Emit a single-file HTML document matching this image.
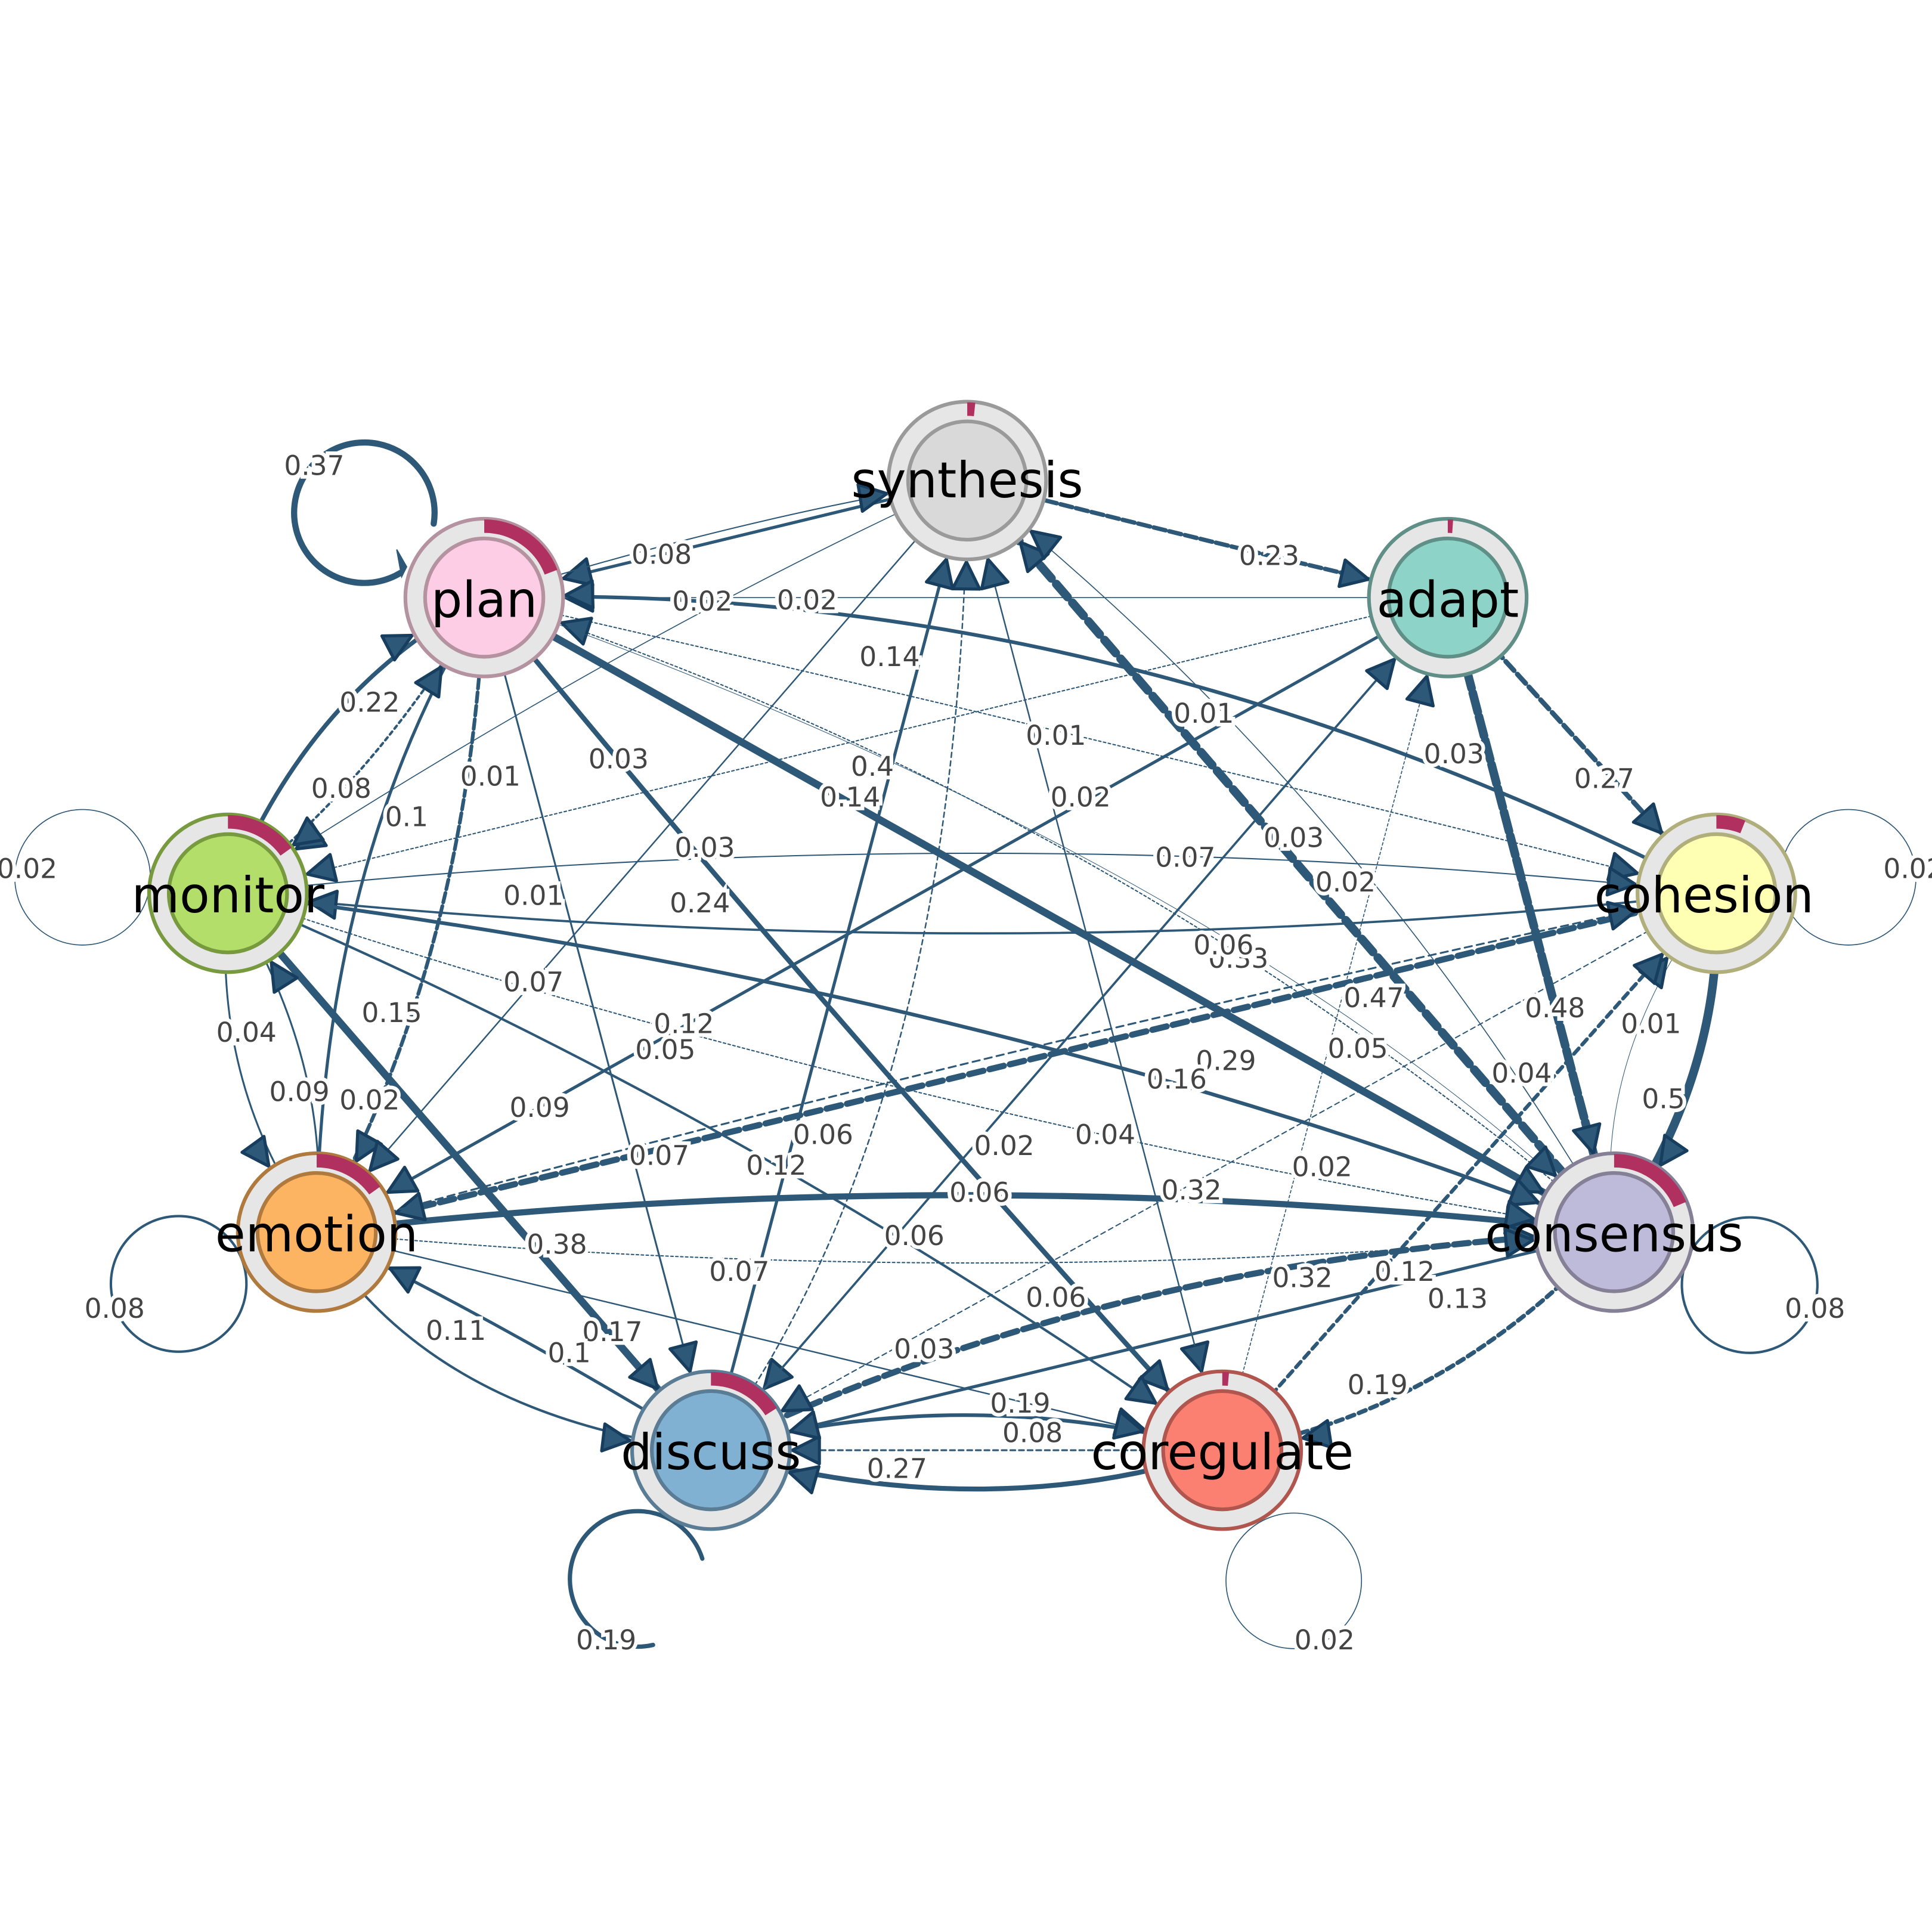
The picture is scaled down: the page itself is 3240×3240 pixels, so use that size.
<!DOCTYPE html>
<html><head><meta charset="utf-8"><style>html,body{margin:0;padding:0;background:#fff}svg{display:block}</style></head>
<body>
<svg width="3240" height="3240" viewBox="0 0 1568 1568" xmlns="http://www.w3.org/2000/svg" font-family="DejaVu Sans, Liberation Sans, sans-serif">
<defs>
<marker id="a" markerUnits="userSpaceOnUse" markerWidth="20" markerHeight="20" refX="0" refY="0" orient="auto" overflow="visible">
<path d="M-88,-11 L-66,0 L-88,11 Z" fill="#2e5877" stroke="#173e5e" stroke-width="2.5" stroke-linejoin="round"/>
</marker>
</defs>
<g fill="none" stroke="#2e5877" stroke-linecap="round">
<!-- loops -->
<path d="M325,465 A57,57 0 1 1 352,425" stroke-width="5"/>
<circle cx="67" cy="712" r="55" stroke-width="0.8"/>
<circle cx="1500" cy="712" r="55" stroke-width="0.8"/>
<circle cx="145" cy="1042" r="55" stroke-width="2"/>
<circle cx="1420" cy="1043" r="55" stroke-width="2"/>
<path d="M530,1335 A55,55 0 1 1 570,1265" stroke-width="3.5"/>
<circle cx="1050" cy="1283" r="55" stroke-width="0.8"/>
<path d="M330,460 l-8,-14 l4,22 z" fill="#2e5877"/>
<!-- edges -->
<g marker-end="url(#a)">
<path d="M785,390 L393,485" stroke-width="2.5"/>
<path d="M393,485 Q600,420 785,390" stroke-width="1"/>
<path d="M785,390 Q980,440 1175,485" stroke-width="3.5" stroke-dasharray="10 3"/>
<path d="M1175,485 L393,485" stroke-width="0.8"/>
<path d="M785,390 Q500,520 185,725" stroke-width="0.8"/>
<path d="M1393,725 Q900,470 393,485" stroke-width="3"/>
<path d="M393,485 L1310,1000" stroke-width="6"/>
<path d="M1310,1000 L785,390" stroke-width="7" stroke-dasharray="14 6"/>
<path d="M1175,485 L1310,1000" stroke-width="7" stroke-dasharray="16 4"/>
<path d="M1175,485 L1393,725" stroke-width="4" stroke-dasharray="10 4"/>
<path d="M1393,725 Q1400,870 1310,1000" stroke-width="7"/>
<path d="M1310,1000 Q1290,860 1393,725" stroke-width="0.5"/>
<path d="M185,725 Q250,560 393,485" stroke-width="3.5"/>
<path d="M393,485 Q300,640 185,725" stroke-width="2" stroke-dasharray="3 3"/>
<path d="M257,1000 Q260,700 393,485" stroke-width="2.5"/>
<path d="M393,485 Q380,780 257,1000" stroke-width="3" stroke-dasharray="8 3"/>
<path d="M185,725 L577,1177" stroke-width="6"/>
<path d="M257,1000 Q780,940 1310,1000" stroke-width="5"/>
<path d="M1393,725 L257,1000" stroke-width="5" stroke-dasharray="12 5"/>
<path d="M577,1177 Q900,1020 1310,1000" stroke-width="5" stroke-dasharray="12 5"/>
<path d="M992,1177 Q800,1240 577,1177" stroke-width="4"/>
<path d="M1310,1000 Q1170,1150 992,1177" stroke-width="3.5" stroke-dasharray="6 4"/>
<path d="M577,1177 Q780,1120 992,1177" stroke-width="3"/>
<path d="M992,1177 L577,1177" stroke-width="1.5" stroke-dasharray="4 3"/>
<path d="M393,485 Q650,800 992,1177" stroke-width="4"/>
<path d="M393,485 Q900,600 1393,725" stroke-width="1" stroke-dasharray="2 2"/>
<path d="M1175,485 Q700,600 185,725" stroke-width="1" stroke-dasharray="2 2"/>
<path d="M1393,725 Q800,790 185,725" stroke-width="1.8"/>
<path d="M185,725 Q800,660 1393,725" stroke-width="1"/>
<path d="M1175,485 L257,1000" stroke-width="2.5"/>
<path d="M185,725 Q800,800 1310,1000" stroke-width="3"/>
<path d="M393,485 L577,1177" stroke-width="1.5"/>
<path d="M577,1177 L785,390" stroke-width="2.5"/>
<path d="M257,1000 Q350,1150 577,1177" stroke-width="2"/>
<path d="M577,1177 Q420,1080 257,1000" stroke-width="2.5"/>
<path d="M785,390 L257,1000" stroke-width="1.2"/>
<path d="M1175,485 L577,1177" stroke-width="1" stroke-dasharray="4 3"/>
<path d="M1393,725 L577,1177" stroke-width="1" stroke-dasharray="4 3"/>
<path d="M1310,1000 Q900,1100 577,1177" stroke-width="2.5"/>
<path d="M785,390 L992,1177" stroke-width="1.2"/>
<path d="M992,1177 L785,390" stroke-width="0.8" stroke-dasharray="2 2"/>
<path d="M992,1177 L1175,485" stroke-width="0.8" stroke-dasharray="2 2"/>
<path d="M185,725 Q170,880 257,1000" stroke-width="1.5"/>
<path d="M257,1000 Q270,860 185,725" stroke-width="1.5"/>
<path d="M577,1177 L1175,485" stroke-width="1.8"/>
<path d="M257,1000 Q800,850 1393,725" stroke-width="1.5" stroke-dasharray="6 4"/>
<path d="M1310,1000 Q900,650 393,485" stroke-width="1" stroke-dasharray="2 2"/>
<path d="M257,1000 L992,1177" stroke-width="1.2"/>
<path d="M185,725 Q600,900 992,1177" stroke-width="2"/>
<path d="M992,1177 L1393,725" stroke-width="3" stroke-dasharray="6 4"/>
<path d="M257,1000 Q800,1050 1310,1000" stroke-width="1" stroke-dasharray="2 2"/>
<path d="M577,1177 Q780,900 785,390" stroke-width="1.2" stroke-dasharray="4 3"/>
<path d="M1310,1000 Q1100,640 785,390" stroke-width="0.8"/>
<path d="M393,485 Q1000,700 1310,1000" stroke-width="0.5"/>
<path d="M185,725 Q700,900 1310,1000" stroke-width="1" stroke-dasharray="2 2"/>
</g>
</g>
<!-- nodes -->
<g stroke-width="3">
<circle cx="785" cy="390" r="64" fill="#e6e6e6" stroke="#9a9a9a"/><circle cx="785" cy="390" r="58" fill="none" stroke="#b03060" stroke-width="11" stroke-dasharray="6 400" transform="rotate(-90 785 390)"/><circle cx="785" cy="390" r="48" fill="#d9d9d9" stroke="#9a9a9a"/>
<circle cx="393" cy="485" r="64" fill="#e6e6e6" stroke="#b4929f"/><circle cx="393" cy="485" r="58" fill="none" stroke="#b03060" stroke-width="11" stroke-dasharray="70 400" transform="rotate(-90 393 485)"/><circle cx="393" cy="485" r="48" fill="#fccde5" stroke="#b4929f"/>
<circle cx="1175" cy="485" r="64" fill="#e6e6e6" stroke="#5f8f87"/><circle cx="1175" cy="485" r="58" fill="none" stroke="#b03060" stroke-width="11" stroke-dasharray="4 400" transform="rotate(-90 1175 485)"/><circle cx="1175" cy="485" r="48" fill="#8dd3c7" stroke="#5f8f87"/>
<circle cx="185" cy="725" r="64" fill="#e6e6e6" stroke="#789a3e"/><circle cx="185" cy="725" r="58" fill="none" stroke="#b03060" stroke-width="11" stroke-dasharray="55 400" transform="rotate(-90 185 725)"/><circle cx="185" cy="725" r="48" fill="#b3de69" stroke="#789a3e"/>
<circle cx="1393" cy="725" r="64" fill="#e6e6e6" stroke="#b0ae7a"/><circle cx="1393" cy="725" r="58" fill="none" stroke="#b03060" stroke-width="11" stroke-dasharray="22 400" transform="rotate(-90 1393 725)"/><circle cx="1393" cy="725" r="48" fill="#ffffb3" stroke="#b0ae7a"/>
<circle cx="257" cy="1000" r="64" fill="#e6e6e6" stroke="#b07a3e"/><circle cx="257" cy="1000" r="58" fill="none" stroke="#b03060" stroke-width="11" stroke-dasharray="55 400" transform="rotate(-90 257 1000)"/><circle cx="257" cy="1000" r="48" fill="#fdb462" stroke="#b07a3e"/>
<circle cx="1310" cy="1000" r="64" fill="#e6e6e6" stroke="#858096"/><circle cx="1310" cy="1000" r="58" fill="none" stroke="#b03060" stroke-width="11" stroke-dasharray="68 400" transform="rotate(-90 1310 1000)"/><circle cx="1310" cy="1000" r="48" fill="#bebada" stroke="#858096"/>
<circle cx="577" cy="1177" r="64" fill="#e6e6e6" stroke="#5a7c94"/><circle cx="577" cy="1177" r="58" fill="none" stroke="#b03060" stroke-width="11" stroke-dasharray="58 400" transform="rotate(-90 577 1177)"/><circle cx="577" cy="1177" r="48" fill="#80b1d3" stroke="#5a7c94"/>
<circle cx="992" cy="1177" r="64" fill="#e6e6e6" stroke="#b0564e"/><circle cx="992" cy="1177" r="58" fill="none" stroke="#b03060" stroke-width="11" stroke-dasharray="5 400" transform="rotate(-90 992 1177)"/><circle cx="992" cy="1177" r="48" fill="#fb8072" stroke="#b0564e"/>
</g>
<!-- edge labels -->
<g font-size="22" fill="#444" text-anchor="middle" dominant-baseline="central" stroke="#fff" stroke-width="6" paint-order="stroke">
<text x="255" y="378">0.37</text><text x="537" y="450">0.08</text><text x="1030" y="451">0.23</text>
<text x="570" y="488">0.02</text><text x="655" y="487">0.02</text><text x="722" y="533">0.14</text>
<text x="977" y="579">0.01</text><text x="1180" y="612">0.03</text><text x="1302" y="632">0.27</text>
<text x="300" y="570">0.22</text><text x="277" y="640">0.08</text><text x="398" y="630">0.01</text>
<text x="330" y="663">0.1</text><text x="502" y="616">0.03</text><text x="708" y="622">0.4</text>
<text x="690" y="647">0.14</text><text x="857" y="597">0.01</text><text x="877" y="647">0.02</text>
<text x="572" y="688">0.03</text><text x="1050" y="680">0.03</text><text x="962" y="696">0.07</text>
<text x="1092" y="716">0.02</text><text x="22" y="705">0.02</text><text x="1553" y="705">0.02</text>
<text x="433" y="727">0.01</text><text x="568" y="733">0.24</text><text x="1005" y="778">0.33</text>
<text x="993" y="767">0.06</text><text x="433" y="797">0.07</text><text x="318" y="822">0.15</text>
<text x="200" y="838">0.04</text><text x="1115" y="810">0.47</text><text x="1262" y="818">0.48</text>
<text x="1340" y="831">0.01</text><text x="555" y="831">0.12</text><text x="540" y="852">0.05</text>
<text x="1102" y="851">0.05</text><text x="995" y="861">0.29</text><text x="955" y="876">0.16</text>
<text x="1235" y="871">0.04</text><text x="1350" y="892">0.5</text><text x="243" y="886">0.09</text>
<text x="300" y="893">0.02</text><text x="438" y="899">0.09</text><text x="668" y="921">0.06</text>
<text x="535" y="938">0.07</text><text x="815" y="930">0.02</text><text x="897" y="921">0.04</text>
<text x="630" y="946">0.12</text><text x="795" y="968">0.06</text><text x="967" y="966">0.32</text>
<text x="1073" y="947">0.02</text><text x="452" y="1010">0.38</text><text x="600" y="1032">0.07</text>
<text x="742" y="1003">0.06</text><text x="1057" y="1037">0.32</text><text x="1140" y="1032">0.12</text>
<text x="1183" y="1054">0.13</text><text x="857" y="1053">0.06</text><text x="93" y="1062">0.08</text>
<text x="1473" y="1062">0.08</text><text x="370" y="1080">0.11</text><text x="497" y="1081">0.17</text>
<text x="462" y="1098">0.1</text><text x="750" y="1095">0.03</text><text x="1118" y="1124">0.19</text>
<text x="828" y="1139">0.19</text><text x="838" y="1163">0.08</text><text x="728" y="1192">0.27</text>
<text x="492" y="1331">0.19</text><text x="1075" y="1331">0.02</text>
</g>
<!-- node labels -->
<g font-size="40" fill="#000" text-anchor="middle" dominant-baseline="central">
<text x="785" y="390">synthesis</text><text x="393" y="487">plan</text><text x="1175" y="487">adapt</text>
<text x="185" y="727">monitor</text><text x="1383" y="727">cohesion</text><text x="257" y="1002">emotion</text>
<text x="1310" y="1002">consensus</text><text x="577" y="1179">discuss</text><text x="992" y="1179">coregulate</text>
</g>
</svg>
</body></html>
